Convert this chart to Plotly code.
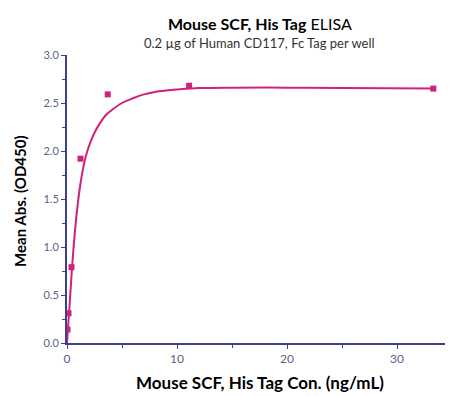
import plotly.graph_objects as go

PINK = "#d0217c"
NAVY = "#3b3f8c"
TICK = "#5a5f88"

# measured points
conc = [0.046, 0.137, 0.41, 1.23, 3.7, 11.1, 33.3]
od450 = [0.14, 0.31, 0.79, 1.92, 2.59, 2.68, 2.65]

# fitted curve
fit_x = [0, 0.1, 0.25, 0.5, 0.75, 1.0, 1.25, 1.5, 1.75, 2.0, 2.5, 3.0, 3.5, 4.0,
         5.0, 6.0, 7.0, 8.0, 9.0, 10, 12, 15, 20, 25, 33.3]
fit_y = [0.0, 0.17, 0.42, 0.85, 1.20, 1.47, 1.68, 1.84, 1.96, 2.05, 2.19, 2.29,
         2.37, 2.42, 2.50, 2.55, 2.59, 2.615, 2.63, 2.64, 2.655, 2.66, 2.66,
         2.655, 2.65]

fig = go.Figure()
fig.add_trace(go.Scatter(
    x=fit_x, y=fit_y, mode="lines",
    line=dict(color=PINK, width=2, shape="spline"),
    showlegend=False, hoverinfo="skip",
))
fig.add_trace(go.Scatter(
    x=conc, y=od450, mode="markers",
    marker=dict(symbol="square", size=6, color=PINK),
    showlegend=False,
))

# titles (page has an 8px body margin, figure sized to fit)
fig.add_annotation(
    text="<b>Mouse SCF, His Tag</b> ELISA",
    xref="paper", yref="paper", x=0.5, y=1.0, yshift=32,
    xanchor="center", yanchor="middle", showarrow=False,
    font=dict(size=16, color="black"),
)
fig.add_annotation(
    text="0.2 µg of Human CD117, Fc Tag per well",
    xref="paper", yref="paper", x=0.5, y=1.0, yshift=12,
    xanchor="center", yanchor="middle", showarrow=False,
    font=dict(size=13, color="#333333"),
)
fig.add_annotation(
    text="<b>Mouse SCF, His Tag Con. (ng/mL)</b>",
    xref="paper", yref="paper", x=0.5, y=0, yshift=-39,
    xanchor="center", yanchor="middle", showarrow=False,
    font=dict(size=17, color="black"),
)
fig.add_annotation(
    text="<b>Mean Abs. (OD450)</b>",
    xref="paper", yref="paper", x=0, y=0.49, xshift=-47,
    xanchor="center", yanchor="middle", showarrow=False, textangle=-90,
    font=dict(size=15, color="black"),
)

fig.update_layout(
    width=445, height=388,
    paper_bgcolor="white", plot_bgcolor="white",
    font=dict(family="Lato, sans-serif", color="black"),
    margin=dict(t=47, b=53, l=59, r=1),
    xaxis=dict(
        range=[0, 35], tickvals=[0, 10, 20, 30],
        showgrid=False, zeroline=False, automargin=False,
        showline=True, linecolor=NAVY, linewidth=2,
        ticks="outside", ticklen=4, tickcolor=NAVY,
        minor=dict(dtick=5, ticks="outside", ticklen=3, tickcolor=NAVY),
        tickfont=dict(size=12, color=TICK),
    ),
    yaxis=dict(
        range=[0, 3.0], dtick=0.5, tickformat=".1f",
        showgrid=False, zeroline=False, automargin=False,
        showline=True, linecolor=NAVY, linewidth=2,
        ticks="outside", ticklen=4, tickcolor=NAVY,
        minor=dict(dtick=0.25, ticks="outside", ticklen=3, tickcolor=NAVY),
        tickfont=dict(size=11, color=TICK),
    ),
)

fig.write_html("out.html")
